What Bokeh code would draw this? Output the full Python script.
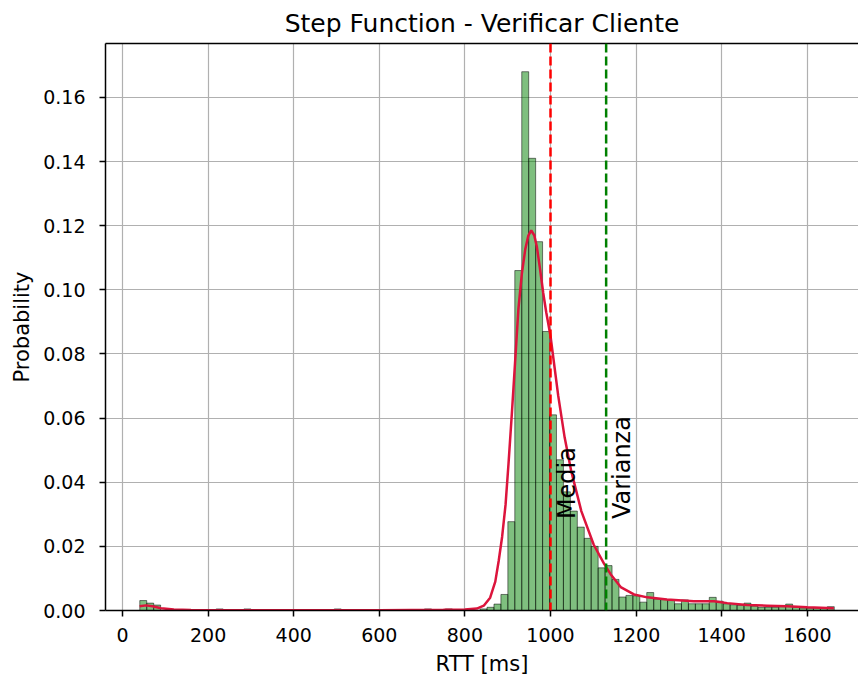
import numpy as np
from bokeh.plotting import figure
from bokeh.models import (LinearAxis, FixedTicker, Range1d, Span, Label,
                          NumeralTickFormatter, ColumnDataSource)
from bokeh.embed import file_html
from bokeh.resources import INLINE

# ---------------- data ----------------
rtt_min = 40.4
rtt_max = 1663.0
n_bins = 100

prob = [
    0.0031, 0.0023, 0.0017, 0, 0, 0, 0, 0, 0, 0,
    0, 0.0005, 0, 0, 0, 0.0005, 0, 0, 0, 0,
    0, 0, 0, 0, 0, 0, 0, 0, 0.0005, 0,
    0, 0, 0, 0, 0, 0, 0, 0, 0, 0,
    0, 0.0005, 0, 0, 0.0005, 0, 0, 0, 0, 0.0005,
    0.0010, 0.0020, 0.0050, 0.0277, 0.1060, 0.1680, 0.1410, 0.1150, 0.0870, 0.0610,
    0.0470, 0.0370, 0.0310, 0.0260, 0.0225, 0.0200, 0.0133, 0.0140, 0.0097, 0.0042,
    0.0047, 0.0046, 0.0026, 0.0056, 0.0036, 0.0034, 0.0031, 0.0021, 0.0033, 0.0021,
    0.0021, 0.0021, 0.0041, 0.0029, 0.0021, 0.0018, 0.0016, 0.0023, 0.0014, 0.0010,
    0.0010, 0.0010, 0.0012, 0.0020, 0.0010, 0.0008, 0.0007, 0.0007, 0.0006, 0.0012,
]

kde_x = [40, 55, 70, 90, 120, 160, 250, 400, 600, 750, 800, 828, 844, 859, 871,
         879, 887, 895, 902, 910, 918, 925, 933, 941, 948, 955, 962, 968, 975,
         983, 990, 1000, 1018, 1033, 1048, 1072, 1101, 1125, 1140, 1164, 1195,
         1226, 1272, 1335, 1382, 1413, 1459, 1506, 1553, 1600, 1662]
kde_y = [0.0013, 0.0016, 0.0013, 0.0007, 0.0003, 0.00015, 0.0001, 0.0001, 0.0001,
         0.0002, 0.0003, 0.0006, 0.0015, 0.0040, 0.0090, 0.0155, 0.0230, 0.0330,
         0.0460, 0.0620, 0.0790, 0.0940, 0.1050, 0.1126, 0.1168, 0.1185, 0.1170,
         0.1135, 0.1070, 0.0990, 0.0930, 0.0856, 0.0670, 0.0540, 0.0437, 0.0310,
         0.0205, 0.0146, 0.0114, 0.0073, 0.0050, 0.0041, 0.0034, 0.0029, 0.0029,
         0.0023, 0.0017, 0.0015, 0.0013, 0.0010, 0.0007]

mean_rtt = 1000
var_rtt = 1130
mean_label = "Media"
var_label = "Varianza"
label_y = 0.0285

x_ticks = [0, 200, 400, 600, 800, 1000, 1200, 1400, 1600]
y_ticks = [0.00, 0.02, 0.04, 0.06, 0.08, 0.10, 0.12, 0.14, 0.16]

title_text = "Step Function - Verificar Cliente"
x_label = "RTT [ms]"
y_label = "Probability"

# ---------------- figure ----------------
FONT = "DejaVu Sans"
edges = np.linspace(rtt_min, rtt_max, n_bins + 1)
src = ColumnDataSource(dict(left=edges[:-1], right=edges[1:],
                            top=prob, bottom=[0] * n_bins))

p = figure(width=858, height=678, output_backend="svg", toolbar_location=None,
           x_range=Range1d(-39.7, 1719.6), y_range=Range1d(0, 0.1768),
           min_border_left=105, min_border_right=0, min_border_top=42,
           min_border_bottom=68, title=title_text)
p.outline_line_color = None
p.background_fill_color = "white"
p.border_fill_color = "white"

p.title.text_font = FONT
p.title.text_font_size = "25px"
p.title.text_font_style = "normal"
p.title.align = "center"
p.title.text_color = "black"
p.title.standoff = 12

p.quad(left="left", right="right", top="top", bottom="bottom", source=src,
       fill_color="green", fill_alpha=0.5, line_color="black", line_alpha=0.5,
       line_width=1)
p.line(kde_x, kde_y, line_color="crimson", line_width=2.5)

p.add_layout(Span(location=mean_rtt, dimension="height", line_color="red",
                  line_dash="9 4", line_width=2.5))
p.add_layout(Span(location=var_rtt, dimension="height", line_color="green",
                  line_dash="9 4", line_width=2.5))

for xv, txt in ((mean_rtt, mean_label), (var_rtt, var_label)):
    p.add_layout(Label(x=xv, y=label_y, text=txt, angle=np.pi / 2,
                       text_align="left", text_baseline="top",
                       text_font=FONT, text_font_size="24px",
                       text_color="black", x_offset=2))

for ax in (p.xaxis[0], p.yaxis[0]):
    ax.axis_line_color = "black"
    ax.axis_line_width = 1.5
    ax.major_tick_line_color = "black"
    ax.major_tick_line_width = 1.5
    ax.major_tick_out = 6
    ax.major_tick_in = 0
    ax.minor_tick_line_color = None
    ax.major_label_text_font = FONT
    ax.major_label_text_font_size = "19px"
    ax.major_label_text_color = "black"
    ax.axis_label_text_font = FONT
    ax.axis_label_text_font_size = "21px"
    ax.axis_label_text_font_style = "normal"
    ax.axis_label_text_color = "black"

p.xaxis[0].major_label_standoff = 11
p.yaxis[0].major_label_standoff = 14
p.xaxis[0].ticker = FixedTicker(ticks=x_ticks)
p.yaxis[0].ticker = FixedTicker(ticks=y_ticks)
p.yaxis[0].formatter = NumeralTickFormatter(format="0.00")
p.xaxis[0].axis_label = x_label
p.yaxis[0].axis_label = y_label
p.xaxis[0].axis_label_standoff = 7
p.yaxis[0].axis_label_standoff = 6

top_axis = LinearAxis(ticker=FixedTicker(ticks=[]), axis_line_color="black",
                      axis_line_width=1.5, major_tick_line_color=None,
                      minor_tick_line_color=None, major_label_text_font_size="0px")
p.add_layout(top_axis, "above")

p.xgrid.ticker = FixedTicker(ticks=x_ticks)
p.ygrid.ticker = FixedTicker(ticks=y_ticks)
for g in (p.xgrid[0], p.ygrid[0]):
    g.grid_line_color = "#b0b0b0"
    g.grid_line_width = 1.2

open("out.html", "w").write(file_html(p, INLINE))
